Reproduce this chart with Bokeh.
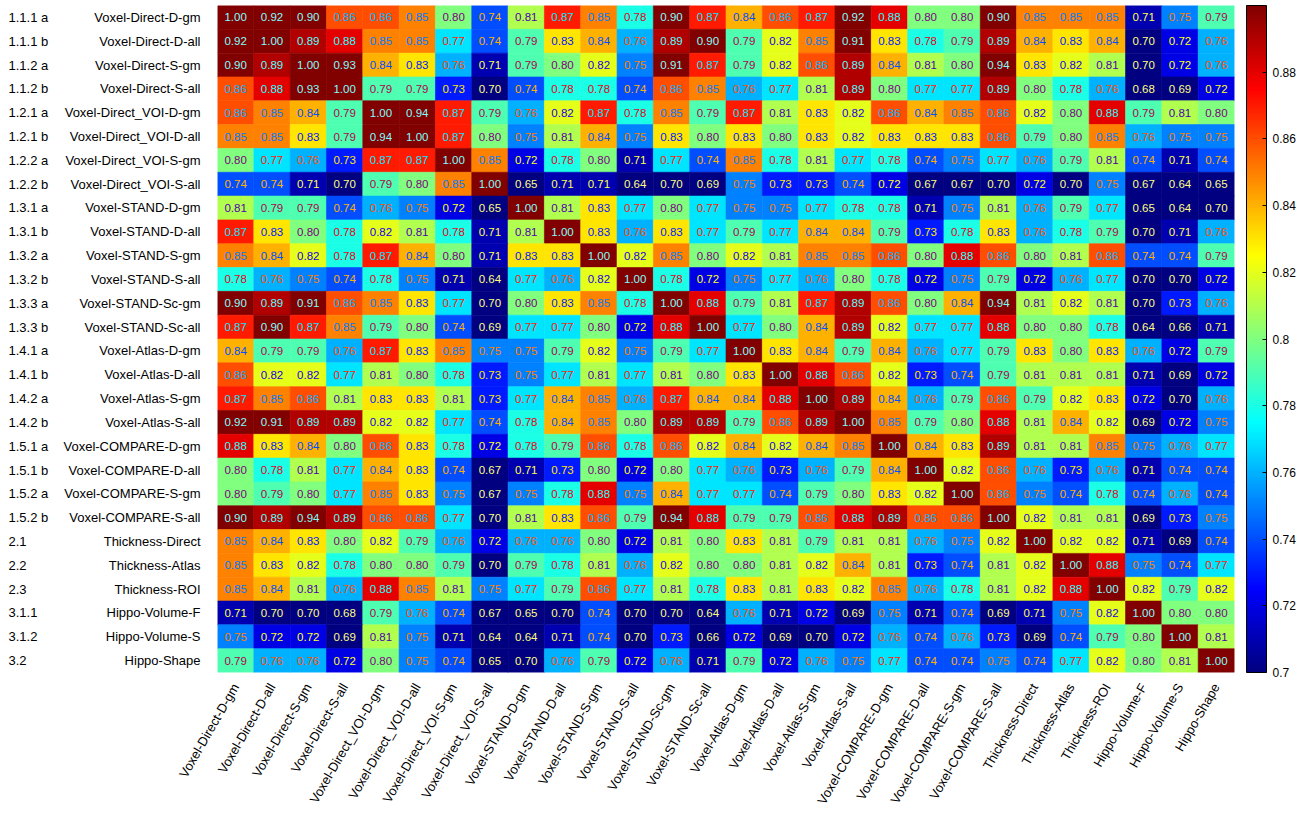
import math
from bokeh.plotting import figure
from bokeh.layouts import row
from bokeh.models import (FactorRange, Range1d, LinearColorMapper, ColorBar, FixedTicker,
                          CustomJSTickFormatter, ColumnDataSource)
from bokeh.core.properties import value
from bokeh.embed import file_html
from bokeh.resources import INLINE

ids = ["1.1.1 a", "1.1.1 b", "1.1.2 a", "1.1.2 b", "1.2.1 a", "1.2.1 b", "1.2.2 a", "1.2.2 b",
       "1.3.1 a", "1.3.1 b", "1.3.2 a", "1.3.2 b", "1.3.3 a", "1.3.3 b", "1.4.1 a", "1.4.1 b",
       "1.4.2 a", "1.4.2 b", "1.5.1 a", "1.5.1 b", "1.5.2 a", "1.5.2 b", "2.1", "2.2", "2.3",
       "3.1.1", "3.1.2", "3.2"]
names = ["Voxel-Direct-D-gm", "Voxel-Direct-D-all", "Voxel-Direct-S-gm", "Voxel-Direct-S-all",
         "Voxel-Direct_VOI-D-gm", "Voxel-Direct_VOI-D-all", "Voxel-Direct_VOI-S-gm", "Voxel-Direct_VOI-S-all",
         "Voxel-STAND-D-gm", "Voxel-STAND-D-all", "Voxel-STAND-S-gm", "Voxel-STAND-S-all",
         "Voxel-STAND-Sc-gm", "Voxel-STAND-Sc-all", "Voxel-Atlas-D-gm", "Voxel-Atlas-D-all",
         "Voxel-Atlas-S-gm", "Voxel-Atlas-S-all", "Voxel-COMPARE-D-gm", "Voxel-COMPARE-D-all",
         "Voxel-COMPARE-S-gm", "Voxel-COMPARE-S-all", "Thickness-Direct", "Thickness-Atlas",
         "Thickness-ROI", "Hippo-Volume-F", "Hippo-Volume-S", "Hippo-Shape"]

r01 = [1.00, 0.92, 0.90, 0.86, 0.86, 0.85, 0.80, 0.74, 0.81, 0.87, 0.85, 0.78, 0.90, 0.87, 0.84, 0.86, 0.87, 0.92, 0.88, 0.80, 0.80, 0.90, 0.85, 0.85, 0.85, 0.71, 0.75, 0.79]
r02 = [0.92, 1.00, 0.89, 0.88, 0.85, 0.85, 0.77, 0.74, 0.79, 0.83, 0.84, 0.76, 0.89, 0.90, 0.79, 0.82, 0.85, 0.91, 0.83, 0.78, 0.79, 0.89, 0.84, 0.83, 0.84, 0.70, 0.72, 0.76]
r03 = [0.90, 0.89, 1.00, 0.93, 0.84, 0.83, 0.76, 0.71, 0.79, 0.80, 0.82, 0.75, 0.91, 0.87, 0.79, 0.82, 0.86, 0.89, 0.84, 0.81, 0.80, 0.94, 0.83, 0.82, 0.81, 0.70, 0.72, 0.76]
r04 = [0.86, 0.88, 0.93, 1.00, 0.79, 0.79, 0.73, 0.70, 0.74, 0.78, 0.78, 0.74, 0.86, 0.85, 0.76, 0.77, 0.81, 0.89, 0.80, 0.77, 0.77, 0.89, 0.80, 0.78, 0.76, 0.68, 0.69, 0.72]
r05 = [0.86, 0.85, 0.84, 0.79, 1.00, 0.94, 0.87, 0.79, 0.76, 0.82, 0.87, 0.78, 0.85, 0.79, 0.87, 0.81, 0.83, 0.82, 0.86, 0.84, 0.85, 0.86, 0.82, 0.80, 0.88, 0.79, 0.81, 0.80]
r06 = [0.85, 0.85, 0.83, 0.79, 0.94, 1.00, 0.87, 0.80, 0.75, 0.81, 0.84, 0.75, 0.83, 0.80, 0.83, 0.80, 0.83, 0.82, 0.83, 0.83, 0.83, 0.86, 0.79, 0.80, 0.85, 0.76, 0.75, 0.75]
r07 = [0.80, 0.77, 0.76, 0.73, 0.87, 0.87, 1.00, 0.85, 0.72, 0.78, 0.80, 0.71, 0.77, 0.74, 0.85, 0.78, 0.81, 0.77, 0.78, 0.74, 0.75, 0.77, 0.76, 0.79, 0.81, 0.74, 0.71, 0.74]
r08 = [0.74, 0.74, 0.71, 0.70, 0.79, 0.80, 0.85, 1.00, 0.65, 0.71, 0.71, 0.64, 0.70, 0.69, 0.75, 0.73, 0.73, 0.74, 0.72, 0.67, 0.67, 0.70, 0.72, 0.70, 0.75, 0.67, 0.64, 0.65]
r09 = [0.81, 0.79, 0.79, 0.74, 0.76, 0.75, 0.72, 0.65, 1.00, 0.81, 0.83, 0.77, 0.80, 0.77, 0.75, 0.75, 0.77, 0.78, 0.78, 0.71, 0.75, 0.81, 0.76, 0.79, 0.77, 0.65, 0.64, 0.70]
r10 = [0.87, 0.83, 0.80, 0.78, 0.82, 0.81, 0.78, 0.71, 0.81, 1.00, 0.83, 0.76, 0.83, 0.77, 0.79, 0.77, 0.84, 0.84, 0.79, 0.73, 0.78, 0.83, 0.76, 0.78, 0.79, 0.70, 0.71, 0.76]
r11 = [0.85, 0.84, 0.82, 0.78, 0.87, 0.84, 0.80, 0.71, 0.83, 0.83, 1.00, 0.82, 0.85, 0.80, 0.82, 0.81, 0.85, 0.85, 0.86, 0.80, 0.88, 0.86, 0.80, 0.81, 0.86, 0.74, 0.74, 0.79]
r12 = [0.78, 0.76, 0.75, 0.74, 0.78, 0.75, 0.71, 0.64, 0.77, 0.76, 0.82, 1.00, 0.78, 0.72, 0.75, 0.77, 0.76, 0.80, 0.78, 0.72, 0.75, 0.79, 0.72, 0.76, 0.77, 0.70, 0.70, 0.72]
r13 = [0.90, 0.89, 0.91, 0.86, 0.85, 0.83, 0.77, 0.70, 0.80, 0.83, 0.85, 0.78, 1.00, 0.88, 0.79, 0.81, 0.87, 0.89, 0.86, 0.80, 0.84, 0.94, 0.81, 0.82, 0.81, 0.70, 0.73, 0.76]
r14 = [0.87, 0.90, 0.87, 0.85, 0.79, 0.80, 0.74, 0.69, 0.77, 0.77, 0.80, 0.72, 0.88, 1.00, 0.77, 0.80, 0.84, 0.89, 0.82, 0.77, 0.77, 0.88, 0.80, 0.80, 0.78, 0.64, 0.66, 0.71]
r15 = [0.84, 0.79, 0.79, 0.76, 0.87, 0.83, 0.85, 0.75, 0.75, 0.79, 0.82, 0.75, 0.79, 0.77, 1.00, 0.83, 0.84, 0.79, 0.84, 0.76, 0.77, 0.79, 0.83, 0.80, 0.83, 0.76, 0.72, 0.79]
r16 = [0.86, 0.82, 0.82, 0.77, 0.81, 0.80, 0.78, 0.73, 0.75, 0.77, 0.81, 0.77, 0.81, 0.80, 0.83, 1.00, 0.88, 0.86, 0.82, 0.73, 0.74, 0.79, 0.81, 0.81, 0.81, 0.71, 0.69, 0.72]
r17 = [0.87, 0.85, 0.86, 0.81, 0.83, 0.83, 0.81, 0.73, 0.77, 0.84, 0.85, 0.76, 0.87, 0.84, 0.84, 0.88, 1.00, 0.89, 0.84, 0.76, 0.79, 0.86, 0.79, 0.82, 0.83, 0.72, 0.70, 0.76]
r18 = [0.92, 0.91, 0.89, 0.89, 0.82, 0.82, 0.77, 0.74, 0.78, 0.84, 0.85, 0.80, 0.89, 0.89, 0.79, 0.86, 0.89, 1.00, 0.85, 0.79, 0.80, 0.88, 0.81, 0.84, 0.82, 0.69, 0.72, 0.75]
r19 = [0.88, 0.83, 0.84, 0.80, 0.86, 0.83, 0.78, 0.72, 0.78, 0.79, 0.86, 0.78, 0.86, 0.82, 0.84, 0.82, 0.84, 0.85, 1.00, 0.84, 0.83, 0.89, 0.81, 0.81, 0.85, 0.75, 0.76, 0.77]
r20 = [0.80, 0.78, 0.81, 0.77, 0.84, 0.83, 0.74, 0.67, 0.71, 0.73, 0.80, 0.72, 0.80, 0.77, 0.76, 0.73, 0.76, 0.79, 0.84, 1.00, 0.82, 0.86, 0.76, 0.73, 0.76, 0.71, 0.74, 0.74]
r21 = [0.80, 0.79, 0.80, 0.77, 0.85, 0.83, 0.75, 0.67, 0.75, 0.78, 0.88, 0.75, 0.84, 0.77, 0.77, 0.74, 0.79, 0.80, 0.83, 0.82, 1.00, 0.86, 0.75, 0.74, 0.78, 0.74, 0.76, 0.74]
r22 = [0.90, 0.89, 0.94, 0.89, 0.86, 0.86, 0.77, 0.70, 0.81, 0.83, 0.86, 0.79, 0.94, 0.88, 0.79, 0.79, 0.86, 0.88, 0.89, 0.86, 0.86, 1.00, 0.82, 0.81, 0.81, 0.69, 0.73, 0.75]
r23 = [0.85, 0.84, 0.83, 0.80, 0.82, 0.79, 0.76, 0.72, 0.76, 0.76, 0.80, 0.72, 0.81, 0.80, 0.83, 0.81, 0.79, 0.81, 0.81, 0.76, 0.75, 0.82, 1.00, 0.82, 0.82, 0.71, 0.69, 0.74]
r24 = [0.85, 0.83, 0.82, 0.78, 0.80, 0.80, 0.79, 0.70, 0.79, 0.78, 0.81, 0.76, 0.82, 0.80, 0.80, 0.81, 0.82, 0.84, 0.81, 0.73, 0.74, 0.81, 0.82, 1.00, 0.88, 0.75, 0.74, 0.77]
r25 = [0.85, 0.84, 0.81, 0.76, 0.88, 0.85, 0.81, 0.75, 0.77, 0.79, 0.86, 0.77, 0.81, 0.78, 0.83, 0.81, 0.83, 0.82, 0.85, 0.76, 0.78, 0.81, 0.82, 0.88, 1.00, 0.82, 0.79, 0.82]
r26 = [0.71, 0.70, 0.70, 0.68, 0.79, 0.76, 0.74, 0.67, 0.65, 0.70, 0.74, 0.70, 0.70, 0.64, 0.76, 0.71, 0.72, 0.69, 0.75, 0.71, 0.74, 0.69, 0.71, 0.75, 0.82, 1.00, 0.80, 0.80]
r27 = [0.75, 0.72, 0.72, 0.69, 0.81, 0.75, 0.71, 0.64, 0.64, 0.71, 0.74, 0.70, 0.73, 0.66, 0.72, 0.69, 0.70, 0.72, 0.76, 0.74, 0.76, 0.73, 0.69, 0.74, 0.79, 0.80, 1.00, 0.81]
r28 = [0.79, 0.76, 0.76, 0.72, 0.80, 0.75, 0.74, 0.65, 0.70, 0.76, 0.79, 0.72, 0.76, 0.71, 0.79, 0.72, 0.76, 0.75, 0.77, 0.74, 0.74, 0.75, 0.74, 0.77, 0.82, 0.80, 0.81, 1.00]

rows = [r01, r02, r03, r04, r05, r06, r07, r08, r09, r10, r11, r12, r13, r14,
        r15, r16, r17, r18, r19, r20, r21, r22, r23, r24, r25, r26, r27, r28]

cbar_ticks = [0.70, 0.72, 0.74, 0.76, 0.78, 0.80, 0.82, 0.84, 0.86, 0.88]
c_low, c_high = 0.7, 0.9

FONT = "Liberation Sans"
TOP = 5
FRAME_W, FRAME_H = 1017, 667
ID_W = 60
LEFT_B = 153


def _clip(a):
    return max(0.0, min(1.0, a))


def jet_rgb(t):
    return (_clip(1.5 - abs(4 * t - 3)), _clip(1.5 - abs(4 * t - 2)), _clip(1.5 - abs(4 * t - 1)))


def to_hex(rgb):
    return "#%02x%02x%02x" % tuple(int(round(c * 255)) for c in rgb)


N = 256
jet_rgbs = [jet_rgb((i + 0.5) / N) for i in range(N)]
palette = [to_hex(c) for c in jet_rgbs]

mapper = LinearColorMapper(palette=palette, low=c_low, high=c_high,
                           low_color=palette[0], high_color=palette[-1])


def rgb_for(v):
    if v >= c_high:
        return jet_rgbs[-1]
    if v < c_low:
        return jet_rgbs[0]
    k = int(math.floor((v - c_low) / (c_high - c_low) * N))
    return jet_rgbs[min(max(k, 0), N - 1)]


xs, ys, vals, txts, tcols = [], [], [], [], []
for i, rr in enumerate(rows):
    for j, v in enumerate(rr):
        xs.append(names[j])
        ys.append(names[i])
        vals.append(v)
        txts.append("%.2f" % v)
        r, g, b = rgb_for(v)
        tcols.append(to_hex((1 - r, 1 - g, 1 - b)))

src = ColumnDataSource(dict(x=xs, y=ys, v=vals, t=txts, tc=tcols))
yr = FactorRange(*names[::-1])

# ---- main heatmap ----
p = figure(x_range=FactorRange(*names), y_range=yr,
           frame_width=FRAME_W, frame_height=FRAME_H,
           output_backend="svg", toolbar_location=None,
           min_border_left=LEFT_B, min_border_top=TOP, min_border_bottom=0, min_border_right=0)

p.rect(x="x", y="y", width=1, height=1, source=src,
       fill_color={"field": "v", "transform": mapper},
       line_color={"field": "v", "transform": mapper}, line_width=0.6)
p.text(x="x", y="y", text="t", source=src, text_color="tc",
       text_align="center", text_baseline="middle",
       text_font=value(FONT), text_font_size=value("11.5px"))

p.grid.visible = False
p.outline_line_color = None

for ax in (p.xaxis[0], p.yaxis[0]):
    ax.axis_line_color = None
    ax.major_tick_line_color = None
    ax.minor_tick_line_color = None
    ax.major_label_text_font = FONT
    ax.major_label_text_font_size = "13px"
    ax.major_label_text_color = "black"

p.xaxis.major_label_orientation = math.pi / 3
p.xaxis.major_label_standoff = 6
p.yaxis.major_label_standoff = 11

cb = ColorBar(color_mapper=mapper, ticker=FixedTicker(ticks=cbar_ticks),
              formatter=CustomJSTickFormatter(code="return (Math.round(tick*100)/100).toString();"),
              width=20, height=FRAME_H, padding=0, margin=0, location=(12, 0),
              bar_line_color="black", bar_line_width=1,
              major_tick_line_color="black", major_tick_in=4, major_tick_out=0,
              major_label_text_font=FONT, major_label_text_font_size="12px",
              major_label_text_color="black", label_standoff=6,
              background_fill_color=None, border_line_color=None)
p.add_layout(cb, "right")

# ---- row ids drawn against the shared row scale ----
lab = figure(x_range=Range1d(0, ID_W), y_range=yr,
             frame_width=ID_W, frame_height=FRAME_H,
             output_backend="svg", toolbar_location=None,
             min_border_left=0, min_border_right=0, min_border_top=TOP, min_border_bottom=0)
lab.axis.visible = False
lab.grid.visible = False
lab.outline_line_color = None
lsrc = ColumnDataSource(dict(y=names, ids=ids, xl=[8] * len(ids)))
lab.text(x="xl", y="y", text="ids", source=lsrc, text_align="left", text_baseline="middle",
         text_font=value(FONT), text_font_size=value("13px"), text_color="black")

layout = row(lab, p)
open("out.html", "w").write(file_html(layout, INLINE))
